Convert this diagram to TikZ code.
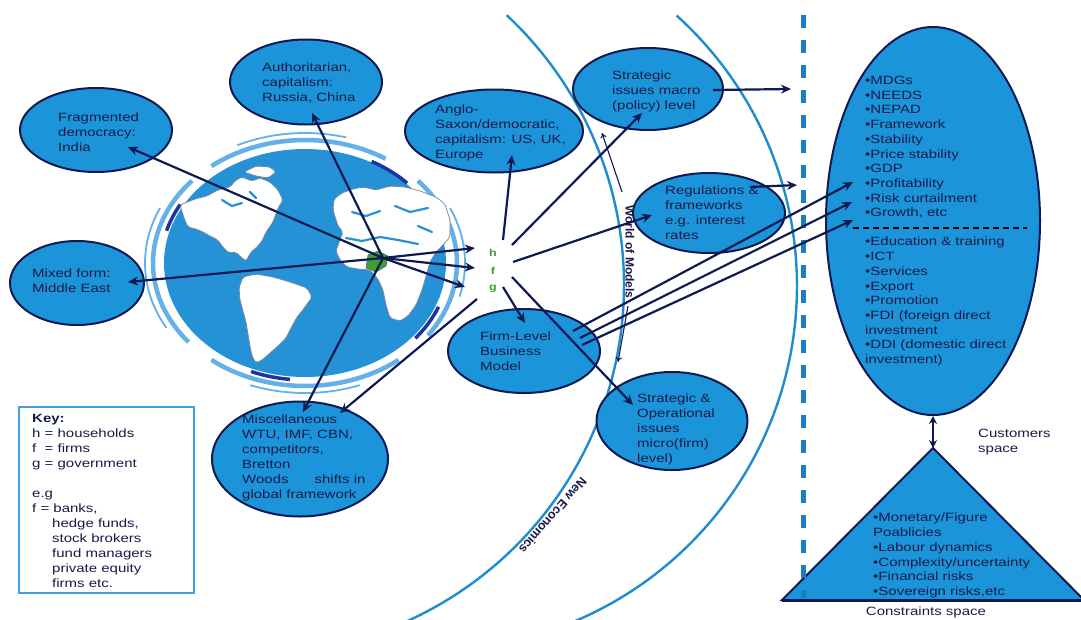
\documentclass[tikz,border=0pt]{standalone}
\usepackage{fontspec}
\setmainfont{Liberation Sans}[FakeStretch=1.25]
\newfontfamily\plainsans{Liberation Sans}
\usetikzlibrary{shapes.geometric,arrows.meta}
\definecolor{ellfill}{RGB}{28,148,218}
\definecolor{navy}{RGB}{16,26,82}
\definecolor{ink}{RGB}{22,28,70}
\definecolor{arcblue}{RGB}{30,140,205}
\definecolor{dashblue}{RGB}{24,124,198}
\definecolor{globeblue}{RGB}{38,146,214}
\definecolor{ringblue}{RGB}{100,176,232}
\definecolor{deepblue}{RGB}{28,52,160}
\definecolor{hfggreen}{RGB}{58,160,48}
\definecolor{keyblue}{RGB}{64,160,226}
\begin{document}
\begin{tikzpicture}[x=1pt,y=-1pt,
  ell/.style={ellipse, draw=navy, line width=2pt, fill=ellfill, inner sep=0pt},
  lbl/.style={anchor=north west, inner sep=0pt, align=left, text=ink, font=\fontsize{12}{15}\selectfont},
  lst/.style={anchor=north west, inner sep=0pt, align=left, text=ink, font=\fontsize{12}{14.7}\selectfont},
  link/.style={draw=navy, line width=2.2pt, -{Stealth[length=10pt,width=9pt]}},
  twoway/.style={draw=navy, line width=2.2pt, {Stealth[length=8pt,width=8pt]}-{Stealth[length=8pt,width=8pt]}},
  womlink/.style={draw=navy, line width=1.1pt, -{To[length=5pt,width=6pt]}},
  hfg/.style={inner sep=0pt, text=hfggreen, font=\bfseries\fontsize{10}{12}\selectfont},
  arcline/.style={draw=arcblue, line width=2.4pt},
  ring/.style={draw=ringblue, line width=4.5pt},
  faint/.style={draw=ringblue, line width=1.8pt},
  accent/.style={draw=deepblue, line width=3.5pt},
  land/.style={fill=white, draw=navy!55, line width=0.7pt, rounded corners=2pt},
  sea/.style={draw=globeblue, line width=2.2pt, line cap=round},
  curved/.style={text=ink, inner sep=0pt}
]
\useasboundingbox (0,0) rectangle (1081,619);
\fill[white] (0,0) rectangle (1081,619);

% ---- the two world boundaries ----
\draw[arcline] plot[domain=-47:67, samples=90] ({255+369*cos(\x)},{285+369*sin(\x)});
\draw[arcline] plot[domain=-48:68, samples=90] ({433+364*cos(\x)},{286+364*sin(\x)});

% ---- globe ----
\fill[globeblue] (305,263) ellipse [x radius=141pt, y radius=114pt];
\draw[ring] plot[domain=140:222, samples=30] ({305+152*cos(\x)},{263+123*sin(\x)});
\draw[ring] plot[domain=232:302, samples=30] ({305+152*cos(\x)},{263+123*sin(\x)});
\draw[ring] plot[domain=-42:36, samples=30] ({305+152*cos(\x)},{263+123*sin(\x)});
\draw[ring] plot[domain=52:128, samples=30] ({305+152*cos(\x)},{263+123*sin(\x)});
\draw[faint] plot[domain=150:205, samples=20] ({305+160*cos(\x)},{263+130*sin(\x)});
\draw[faint] plot[domain=245:285, samples=20] ({305+160*cos(\x)},{263+130*sin(\x)});
\draw[faint] plot[domain=-25:15, samples=20] ({305+160*cos(\x)},{263+130*sin(\x)});
\draw[faint] plot[domain=70:110, samples=20] ({305+160*cos(\x)},{263+130*sin(\x)});
\draw[accent] plot[domain=-62:-44, samples=12] ({305+142*cos(\x)},{263+115*sin(\x)});
\draw[accent] plot[domain=22:40, samples=12] ({305+144*cos(\x)},{263+117*sin(\x)});
\draw[accent] plot[domain=96:112, samples=12] ({305+144*cos(\x)},{263+117*sin(\x)});
\draw[accent] plot[domain=196:210, samples=12] ({305+144*cos(\x)},{263+117*sin(\x)});
% North America with Greenland
\draw[land] (180,205) -- (195,199) -- (207,196) -- (218,190) -- (230,187) -- (236,180) -- (242,177)
  -- (252,181) -- (260,178) -- (270,182) -- (278,190) -- (283,200) -- (278,208) -- (273,222)
  -- (266,232) -- (262,241) -- (256,248) -- (251,252) -- (246,261) -- (241,257) -- (236,252)
  -- (229,253) -- (222,246) -- (218,240) -- (210,236) -- (203,232) -- (196,229) -- (188,227)
  -- (184,218) -- cycle;
\draw[land] (244,172) -- (256,166) -- (270,167) -- (276,172) -- (268,178) -- (256,176) -- cycle;
\draw[sea] (222,200) -- (232,206) -- (242,203);
\draw[sea] (250,192) -- (256,198);
% South America
\draw[land] (243,277) -- (256,274) -- (273,277) -- (290,282) -- (307,288) -- (312,297) -- (305,307)
  -- (297,317) -- (291,328) -- (286,338) -- (278,346) -- (270,353) -- (262,360) -- (256,363)
  -- (252,356) -- (250,346) -- (248,334) -- (246,322) -- (243,311) -- (240,300) -- (239,288) -- cycle;
% Europe, Asia and Africa
\draw[land] (333,210) -- (334,199) -- (342,193) -- (353,189) -- (363,187) -- (376,190) -- (390,186)
  -- (405,187) -- (420,191) -- (436,197) -- (445,204) -- (450,220) -- (450,237) -- (442,246)
  -- (436,252) -- (430,262) -- (426,276) -- (422,290) -- (416,305) -- (408,316) -- (400,321)
  -- (390,318) -- (386,305) -- (383,290) -- (378,279) -- (370,270) -- (358,269) -- (347,267)
  -- (340,260) -- (336,251) -- (340,240) -- (343,232) -- (338,226) -- cycle;
\draw[sea] (346,238) -- (362,241) -- (380,237) -- (398,240) -- (418,244);
\draw[sea] (352,212) -- (366,216) -- (380,211);
\draw[sea] (395,206) -- (410,212) -- (428,208);
\draw[sea] (418,226) -- (432,232);
\fill[hfggreen, draw=navy!70, line width=0.6pt] (368,255) -- (378,251) -- (388,256) -- (386,266) -- (376,272) -- (366,268) -- cycle;
\coordinate (src) at (383,258);

% ---- ellipses ----
\node[ell, minimum width=152pt, minimum height=84pt] (frag) at (96,130) {};
\node[ell, minimum width=152pt, minimum height=85pt] (auth) at (306,82) {};
\node[ell, minimum width=178pt, minimum height=83pt] (anglo) at (494,131) {};
\node[ell, minimum width=150pt, minimum height=82pt] (strat) at (648,89) {};
\node[ell, minimum width=152pt, minimum height=80pt] (regs) at (709,213) {};
\node[ell, minimum width=134pt, minimum height=84pt] (mixed) at (77,283) {};
\node[ell, minimum width=152pt, minimum height=84pt] (firm) at (524,351) {};
\node[ell, minimum width=151pt, minimum height=98pt] (stratop) at (672,421) {};
\node[ell, minimum width=176pt, minimum height=115pt] (misc) at (300,459) {};
\node[ell, minimum width=214pt, minimum height=388pt] (big) at (933,221) {};

% ---- triangle ----
\coordinate (apex) at (933,448);
\coordinate (tl) at (782,600);
\coordinate (tr) at (1084,600);
\filldraw[fill=ellfill, draw=navy, line width=2pt] (apex) -- (tl) -- (tr) -- cycle;
\draw[navy, line width=3pt] (tl) -- (tr);

% ---- dashed separators ----
\draw[dashblue, line width=5pt, dash pattern=on 13pt off 12pt] (803,15) -- (803,598);
\draw[black, line width=1.3pt, dash pattern=on 6pt off 4pt] (853,228) -- (1027,228);

% ---- texts ----
\node[lbl] (fragtxt) at (58,113) {Fragmented\\democracy:\\India};
\node[lbl] (authtxt) at (262,63) {Authoritarian,\\capitalism:\\Russia, China};
\node[lbl] (anglotxt) at (435,105) {Anglo-\\Saxon/democratic,\\capitalism: US, UK,\\Europe};
\node[lbl] (strattxt) at (612,71) {Strategic\\issues macro\\(policy) level};
\node[lbl] (regstxt) at (665,186) {Regulations \&\\frameworks\\e.g. interest\\rates};
\node[lbl] (mixedtxt) at (32,269) {Mixed form:\\Middle East};
\node[lbl] (firmtxt) at (480,332) {Firm-Level\\Business\\Model};
\node[lbl] (stratoptxt) at (637,394) {Strategic \&\\Operational\\issues\\micro(firm)\\level)};
\node[lbl] (misctxt) at (242,415) {Miscellaneous\\WTU, IMF, CBN,\\competitors,\\Bretton\\Woods\hspace{26pt}shifts in\\global framework};
\node[lst] (goals) at (865,76) {•MDGs\\•NEEDS\\•NEPAD\\•Framework\\•Stability\\•Price stability\\•GDP\\•Profitability\\•Risk curtailment\\•Growth, etc};
\node[lst] (drivers) at (865,237) {•Education \& training\\•ICT\\•Services\\•Export\\•Promotion\\•FDI (foreign direct\\investment\\•DDI (domestic direct\\investment)};
\node[lst] (limits) at (873,513) {•Monetary/Figure\\Poablicies\\•Labour dynamics\\•Complexity/uncertainty\\•Financial risks\\•Sovereign risks,etc};
\node[lbl] (cust) at (978,429) {Customers\\space};
\node[lbl, anchor=center] (constr) at (926,612) {Constraints space};

% ---- key ----
\node[draw=keyblue, line width=1.5pt, minimum width=175pt, minimum height=186pt, inner sep=0pt] (keybox) at (106.5,500) {};
\node[lbl] (keytxt) at (32,414) {\textbf{Key:}\\h = households\\f\hspace{8.3pt}= firms\\g = government\\[15pt]e.g\\f = banks,\\\hspace*{20pt}hedge funds,\\\hspace*{20pt}stock brokers\\\hspace*{20pt}fund managers\\\hspace*{20pt}private equity\\\hspace*{20pt}firms etc.};

% ---- h f g ----
\node[hfg] (h) at (493,253) {h};
\node[hfg] (f) at (493,271) {f};
\node[hfg] (g) at (493,289) {g};

% ---- labels along the world boundaries ----
\node[curved, rotate=-90, font=\plainsans\bfseries\fontsize{12}{14}\selectfont] (wom) at (630,252) {World of Models};
\node[curved, rotate=-131, font=\plainsans\bfseries\fontsize{12.5}{14}\selectfont] (neweco) at (553,516) {New Economics};
\coordinate (womtop) at (602,133);
\coordinate (womA) at (622,192);
\coordinate (womB) at (628,306);
\coordinate (wombot) at (618,362);
\draw[womlink] (womA) -- (womtop);
\draw[womlink] (womB) -- (wombot);

% ---- connectors from the globe ----
\draw[link] (src) -- ([shift={(32,17)}]frag.center);
\draw[link] (src) -- ([shift={(6,31)}]auth.center);
\draw[link] (src) -- ([shift={(51,-1)}]mixed.center);
\draw[link] (src) -- ([shift={(3,-47)}]misc.center);
\draw[link] (src) -- ([shift={(-18,-5)}]h.center);
\draw[link] (src) -- ([shift={(-18,-3)}]f.center);
\draw[link] (src) -- ([shift={(-28,-2)}]g.center);

% ---- connectors from h f g ----
\draw[link] ([shift={(-16,10)}]g.center) -- ([shift={(40,-46)}]misc.center);
\draw[link] ([shift={(10,-13)}]h.center) -- ([shift={(18,24)}]anglo.center);
\draw[link] ([shift={(19,-8)}]h.center) -- ([shift={(-6,24)}]strat.center);
\draw[link] ([shift={(20,-9)}]f.center) -- ([shift={(-57,2)}]regs.center);
\draw[link] ([shift={(10,-2)}]g.center) -- ([shift={(1,-28)}]firm.center);
\draw[link] ([shift={(19,6)}]f.center) -- ([shift={(-39,-16)}]stratop.center);

% ---- connectors towards the customer side ----
\coordinate (macroout) at (791,89);
\coordinate (regsout) at (797,185);
\draw[link] ([shift={(65,1)}]strat.center) -- (macroout);
\draw[link] ([shift={(41,-26)}]regs.center) -- (regsout);
\draw[link] ([shift={(49,-20)}]firm.center) -- ([shift={(-80,-39)}]big.center);
\draw[link] ([shift={(56,-13)}]firm.center) -- ([shift={(-81,-19)}]big.center);
\draw[link] ([shift={(58,-6)}]firm.center) -- ([shift={(-80,-1)}]big.center);
\draw[twoway] (big.south) -- (apex);
\end{tikzpicture}
\end{document}
